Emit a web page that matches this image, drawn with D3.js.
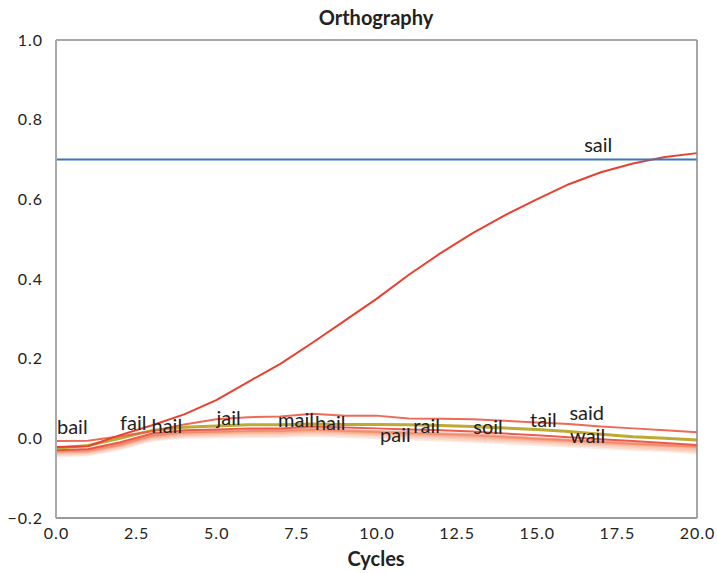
<!DOCTYPE html>
<html>
<head>
<meta charset="utf-8">
<script src="https://cdn.jsdelivr.net/npm/d3@7"></script>
<style>
  body { margin: 0; background: #fff; }
  text { font-family: Lato, "Open Sans", sans-serif; fill: #222; }
</style>
</head>
<body>
<div id="chart"></div>
<script>
// x values (cycles)
var cycles = [0, 1, 2, 3, 4, 5, 6, 7, 8, 9, 10, 11, 12, 13, 14, 15, 16, 17, 18, 19, 20];

// one row per line, drawn in this order (pale ones first)
var lineNames = ["p1", "p2", "p3", "p4", "p5", "p6", "p7", "p8", "red2", "olive", "bail", "sail"];
var lineColors = ["#fbd3c4", "#fac6b2", "#f8b8a2", "#f7ad94", "#f59f84", "#f2a24a", "#f48e74", "#f07a62",
                  "#e84a3c", "#b5a11c", "#ea5a45", "#e8412f"];
var lineValues = [
    [-0.044, -0.042, -0.027, -0.005, 0.002, 0.003, 0.004, 0.004, 0.007, 0.004, 0.001, -0.002, -0.005, -0.008, -0.012, -0.016, -0.020, -0.024, -0.028, -0.032, -0.037],
    [-0.041, -0.039, -0.024, -0.002, 0.005, 0.007, 0.008, 0.008, 0.011, 0.008, 0.005, 0.002, -0.001, -0.004, -0.008, -0.012, -0.016, -0.020, -0.024, -0.028, -0.033],
    [-0.038, -0.036, -0.021, 0.001, 0.008, 0.010, 0.011, 0.011, 0.014, 0.011, 0.009, 0.005, 0.002, -0.001, -0.005, -0.009, -0.013, -0.017, -0.021, -0.026, -0.030],
    [-0.036, -0.034, -0.019, 0.003, 0.010, 0.013, 0.014, 0.014, 0.017, 0.014, 0.011, 0.008, 0.005, 0.002, -0.002, -0.006, -0.010, -0.014, -0.018, -0.022, -0.027],
    [-0.035, -0.033, -0.018, 0.004, 0.012, 0.014, 0.016, 0.015, 0.019, 0.016, 0.013, 0.010, 0.007, 0.004, 0.000, -0.004, -0.008, -0.012, -0.016, -0.020, -0.024],
    [-0.030, -0.028, -0.014, 0.006, 0.014, 0.016, 0.017, 0.017, 0.020, 0.017, 0.015, 0.012, 0.010, 0.007, 0.003, -0.001, -0.005, -0.010, -0.014, -0.018, -0.022],
    [-0.033, -0.031, -0.016, 0.007, 0.015, 0.017, 0.019, 0.019, 0.022, 0.019, 0.016, 0.013, 0.010, 0.007, 0.003, -0.002, -0.006, -0.010, -0.014, -0.018, -0.021],
    [-0.032, -0.030, -0.015, 0.008, 0.016, 0.018, 0.020, 0.020, 0.024, 0.020, 0.018, 0.015, 0.012, 0.010, 0.005, 0.000, -0.004, -0.008, -0.012, -0.016, -0.019],
    [-0.030, -0.027, -0.010, 0.012, 0.020, 0.022, 0.025, 0.025, 0.030, 0.027, 0.025, 0.022, 0.020, 0.017, 0.012, 0.008, 0.003, -0.002, -0.007, -0.012, -0.017],
    [-0.025, -0.018, 0.000, 0.020, 0.028, 0.031, 0.034, 0.034, 0.036, 0.035, 0.035, 0.034, 0.032, 0.030, 0.026, 0.022, 0.017, 0.010, 0.004, 0.000, -0.004],
    [-0.007, -0.006, 0.005, 0.018, 0.035, 0.048, 0.053, 0.055, 0.062, 0.057, 0.057, 0.050, 0.049, 0.048, 0.044, 0.040, 0.036, 0.030, 0.025, 0.020, 0.015],
    [-0.022, -0.020, 0.008, 0.033, 0.060, 0.096, 0.142, 0.187, 0.240, 0.295, 0.350, 0.410, 0.465, 0.515, 0.560, 0.600, 0.638, 0.668, 0.690, 0.706, 0.716]
];
var lineWidths = [2.5, 2.5, 2.5, 2.5, 2.5, 1.5, 2.5, 2.5, 2, 3, 2, 2];
var lineOpacity = [0.5, 0.5, 0.5, 0.5, 0.5, 0.7, 0.5, 0.6, 0.9, 0.9, 0.9, 1];

// threshold line
var threshold = 0.7;

// word labels
var labelWords = ["bail", "fail", "hail", "jail", "mail", "hail", "pail", "rail", "soil", "tail", "said", "wail", "sail"];
var labelX = [0.03, 2.0, 2.98, 5.01, 6.93, 8.08, 10.11, 11.15, 13.02, 14.79, 16.02, 16.04, 16.48];
var labelY = [0.011, 0.021, 0.014, 0.033, 0.029, 0.021, -0.009, 0.014, 0.010, 0.028, 0.046, -0.011, 0.718];

var xTicks = [0, 2.5, 5, 7.5, 10, 12.5, 15, 17.5, 20];
var yTicks = [-0.2, 0.0, 0.2, 0.4, 0.6, 0.8, 1.0];

var width = 717, height = 573;
var margin = {top: 40, right: 20, bottom: 55, left: 56};
var innerW = 697 - margin.left;
var innerH = 518 - margin.top;

var svg = d3.select("#chart").append("svg")
    .attr("width", width)
    .attr("height", height);

var x = d3.scaleLinear().domain([0, 20]).range([margin.left, margin.left + innerW]);
var y = d3.scaleLinear().domain([-0.2, 1.0]).range([margin.top + innerH, margin.top]);

// title
svg.append("text")
    .attr("x", 376).attr("y", 25)
    .attr("text-anchor", "middle")
    .style("font-size", "20px").style("font-weight", "bold")
    .text("Orthography");

// lines
var line = d3.line()
    .x(function(d, i) { return x(cycles[i]); })
    .y(function(d) { return y(d); });

var plot = svg.append("g");
lineValues.forEach(function(vals, k) {
    plot.append("path")
        .attr("d", line(vals))
        .attr("fill", "none")
        .attr("stroke", lineColors[k])
        .attr("stroke-width", lineWidths[k])
        .attr("stroke-opacity", lineOpacity[k]);
});

plot.append("line")
    .attr("x1", x(0)).attr("x2", x(20))
    .attr("y1", y(threshold)).attr("y2", y(threshold))
    .attr("stroke", "#3a76bd")
    .attr("stroke-width", 2);

// word labels
labelWords.forEach(function(w, i) {
    svg.append("text")
        .attr("x", x(labelX[i]))
        .attr("y", y(labelY[i]))
        .style("font-size", "20px")
        .text(w);
});

// frame
svg.append("line").attr("x1", x(0)).attr("x2", x(20)).attr("y1", y(1)).attr("y2", y(1))
    .attr("stroke", "#555").attr("stroke-width", 1);
svg.append("line").attr("x1", x(20)).attr("x2", x(20)).attr("y1", y(1)).attr("y2", y(-0.2))
    .attr("stroke", "#888").attr("stroke-width", 1.5);
svg.append("line").attr("x1", x(0)).attr("x2", x(20)).attr("y1", y(-0.2)).attr("y2", y(-0.2))
    .attr("stroke", "#999").attr("stroke-width", 2);
svg.append("line").attr("x1", x(0)).attr("x2", x(0)).attr("y1", y(1)).attr("y2", y(-0.2))
    .attr("stroke", "#aaa").attr("stroke-width", 2);

// axes
var xAxis = svg.append("g")
    .attr("transform", "translate(0," + (margin.top + innerH) + ")")
    .call(d3.axisBottom(x).tickValues(xTicks).tickSize(0).tickPadding(10).tickFormat(d3.format(".1f")));
xAxis.select(".domain").remove();
xAxis.selectAll("text").style("font-size", "16px").style("letter-spacing", "1px")
    .style("font-family", "Lato, sans-serif").attr("fill", "#222");

var yAxis = svg.append("g")
    .attr("transform", "translate(" + margin.left + ",0)")
    .call(d3.axisLeft(y).tickValues(yTicks).tickSize(0).tickPadding(13).tickFormat(d3.format(".1f")));
yAxis.select(".domain").remove();
yAxis.selectAll("text").style("font-size", "16px").style("letter-spacing", "1px")
    .style("font-family", "Lato, sans-serif").attr("fill", "#222");

// axis label
svg.append("text")
    .attr("x", 376).attr("y", 566)
    .attr("text-anchor", "middle")
    .style("font-size", "20px").style("font-weight", "bold")
    .text("Cycles");
</script>
</body>
</html>
